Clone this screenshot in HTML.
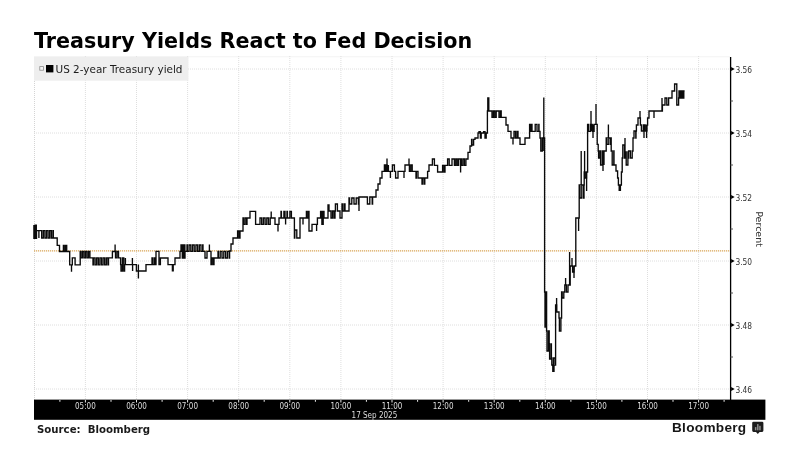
<!DOCTYPE html>
<html lang="en">
<head>
<meta charset="utf-8">
<title>Treasury Yields React to Fed Decision</title>
<style>
  html, body { margin: 0; padding: 0; background: #fff; }
  body { width: 799px; height: 450px; overflow: hidden; position: relative;
         font-family: "DejaVu Sans", "Liberation Sans", sans-serif; }
  h1 { position: absolute; left: 34px; top: 27.6px; margin: 0; font-size: 20.7px; line-height: 26px;
       font-weight: bold; color: #000; letter-spacing: 0; white-space: nowrap;
       font-family: "DejaVu Sans", "Liberation Sans", sans-serif; }
  svg { position: absolute; left: 0; top: 0; }
  h1, .src, .brand, svg { will-change: transform; }
  .grid line { stroke: #dedede; stroke-width: 1; stroke-dasharray: 1 1; }
  .ylab text { font-size: 8.3px; fill: #333; font-family: "DejaVu Sans Condensed", "DejaVu Sans", "Liberation Sans", sans-serif; }
  .ylab path { fill: #000; }
  .xlab text { font-size: 8px; fill: #dedede; text-anchor: middle; font-family: "DejaVu Sans Condensed", "DejaVu Sans", "Liberation Sans", sans-serif; }
  .xlab line { stroke: #e8e8e8; stroke-width: 1; }
  .src { position: absolute; left: 37px; top: 422.9px; font-size: 10.2px; line-height: 14px; font-weight: bold; color: #1a1a1a; white-space: pre; }
  .brand { position: absolute; left: 672.2px; top: 417.5px; font-size: 13.6px; line-height: 20px; font-weight: bold; color: #161616;
           font-family: "Liberation Sans", sans-serif; letter-spacing: 0.3px; white-space: nowrap; }
</style>
</head>
<body>
<h1>Treasury Yields React to Fed Decision</h1>
<svg width="799" height="450" viewBox="0 0 799 450">
  <!-- plot frame -->
  <rect x="34" y="56.5" width="697" height="344" fill="#fff"/>
  <line x1="34" y1="56.8" x2="730" y2="56.8" stroke="#f3f3f3" stroke-width="1"/>
  <line x1="34.5" y1="57" x2="34.5" y2="400" stroke="#d4d4d4" stroke-width="1" stroke-dasharray="1 1"/>
  <g class="grid">
    <line x1="85.4" y1="56" x2="85.4" y2="400"/><line x1="136.5" y1="56" x2="136.5" y2="400"/><line x1="187.6" y1="56" x2="187.6" y2="400"/><line x1="238.7" y1="56" x2="238.7" y2="400"/><line x1="289.8" y1="56" x2="289.8" y2="400"/><line x1="340.9" y1="56" x2="340.9" y2="400"/><line x1="392.0" y1="56" x2="392.0" y2="400"/><line x1="443.1" y1="56" x2="443.1" y2="400"/><line x1="494.2" y1="56" x2="494.2" y2="400"/><line x1="545.3" y1="56" x2="545.3" y2="400"/><line x1="596.4" y1="56" x2="596.4" y2="400"/><line x1="647.5" y1="56" x2="647.5" y2="400"/><line x1="698.6" y1="56" x2="698.6" y2="400"/><line x1="34" y1="389.0" x2="730.5" y2="389.0"/><line x1="34" y1="325.0" x2="730.5" y2="325.0"/><line x1="34" y1="261.0" x2="730.5" y2="261.0"/><line x1="34" y1="197.0" x2="730.5" y2="197.0"/><line x1="34" y1="133.0" x2="730.5" y2="133.0"/><line x1="34" y1="69.0" x2="730.5" y2="69.0"/>
  </g>
  <!-- legend -->
  <rect x="34" y="56.7" width="154.4" height="24" fill="#eeeeee"/>
  <rect x="39.8" y="66.6" width="3.6" height="3.6" fill="#f4f4f4" stroke="#8a8a8a" stroke-width="0.8"/>
  <rect x="46" y="65" width="7.4" height="7.4" fill="#000"/>
  <text x="55.5" y="72.6" font-size="10.6" fill="#1c1c1c" font-family="DejaVu Sans, Liberation Sans, sans-serif" textLength="127" lengthAdjust="spacingAndGlyphs">US 2-year Treasury yield</text>
  <!-- reference line -->
  <line x1="34" y1="250.9" x2="730" y2="250.9" stroke="#d9a557" stroke-width="1.2" stroke-dasharray="1.2 0.8"/>
  <!-- series -->
  <path d="M33.9 225.1 V238.3 H35.1 V225.1 H36.3 V238.3 H36.5 V230.6 H38.9 V238 V230.6 H41.7 V238 H43.3 V230.6 H44.9 V238 H46.5 V230.6 H48.1 V238 H49.7 V230.6 H51.3 V238 H52.9 V230.6 H53.3 V238 H57.2 V245.3 H59.5 V251.5 H63.4 V245.3 H63.9 V251.5 H65.3 V245.3 H66.7 V251.5 H67.8 H69.7 V264.8 H71.5 V271.8 V264.8 H72.3 V257.8 H75.1 V264.8 H80.2 V251.5 H81 V257.8 H82.5 V251.5 H84 V257.8 H85.5 V251.5 H87 V257.8 H88.5 V251.5 H89.9 V257.8 H93 V264.8 H93.5 V257.8 H95.1 V264.8 H96.7 V257.8 H98.3 V264.8 H99.9 V257.8 H101.5 V264.8 H103.1 V257.8 H104.7 V264.8 H106.3 V257.8 H107.9 V264.8 H108.5 V257.8 H112.4 V251.5 H115.1 V244.5 V251.5 H115.5 V257.8 H117 V251.5 H118.5 V257.8 H119 H120.6 V264.6 H121 V271 H122.4 V258 H123.8 V271 H124.6 V264.6 H125.4 V258 V264.6 H132.4 V258 V264.6 H132.6 V271 V264.6 H136 H136.4 V271 H138.4 H140.8 H146 V264.6 H152 V258 H152.4 V264.6 H154 V258 H154.8 V264.6 H156 V251.4 H159 V264.6 H160.4 V258 H168 V264.6 H172.4 V271.4 V264.6 H173.2 V271.4 V264.6 H175 V258 H180 V251.4 H181 V245 H182.3 V258 H183.6 V245 H184.9 V258 H185 V251.4 H187 V245 H187.4 V251.4 H189.1 V245 H190.8 V251.4 H192.5 V245 H194.2 V251.4 H195.9 V245 H197.6 V251.4 H199.3 V245 H201 V251.4 H202.7 V245 H203 V251.4 H205 V258 H207 V251.4 H209.4 V244.4 V251.4 H211 V264.6 H211.4 V258 H212.8 V264.6 H214 V258 H218 V251.4 H218.4 V258 H220.2 V251.4 H222 V258 H223.8 V251.4 H225.6 V258 H227.4 V251.4 H229.2 V258 H229.6 V251.4 V258 V251 H231 V244 H233 V238 H237.6 V231 H239 V238 H240 V231 H243 V218 H243.4 V224.4 H244.9 V218 H246.4 V224.4 H247 V218 H250 V211.4 H255.6 V224.4 H260 V218 H261.7 V224.4 H263.4 V218 H265.1 V224.4 H266.8 V218 H268.5 V224.4 H270.2 V218 H271 H271.2 V211.4 V218 H275 V224.4 H278 V231.4 V224.4 H279 V218 H281 V211.4 H281.4 V218 H283.9 V211.4 H284.4 H285 V218 H285.6 V224.4 V218 H287 V211.4 H287.4 V218 H289.9 V211.4 H290.6 H291.4 V218 H294.4 V238 H294.8 V230 H296.8 V238 H297 H300 V218 H303 V224.4 V218 H306.4 V211.4 H306.6 V218 H308 V211.4 H309 V231 H312 V224.4 H316.6 V231 V224.4 H317.4 V218 H320.6 V211.4 H321.9 V224.4 H323.2 V211.4 H324 V218 V211 V218 H328 V205 H329 V211 H331 V218 H332.5 V211 H334 V218 H335 V211 H335.4 V204 H337.4 V211 H340 V218 H342 V204 H342.4 V211 H344 V204 H345 V211 H349 V198 H349.6 V204 H351.8 V198 H354 V204 H356.2 V198 H358.4 V204 H359 V197 V211 V197 H367 H367.4 V204 H369.8 V197 H372.2 V204 H372.6 V197 H376 V190 H378 V184 H380 V178 H382 V171.4 H384.4 V165 H385.2 V171.4 H386.4 V165 H386.8 H387 V158.4 V165 H387.2 V171.4 H388.4 V165 V171.4 H390.4 V178 V171.4 H392.4 V165 H394.4 V171.4 H395.6 V178 H398 V171.4 H404 V178 V171.4 H405 V165 H409 V158.4 V165 H409.4 V171.4 H410.8 V165 H412.2 V171.4 H412.6 H416 V178 H416.4 V171.4 H418 V178 H422 V184 H422.4 V178 H424 V184 H424.8 V178 H427.6 V171.4 H429 V165 H432.4 V159 H434.4 V165.4 H437.6 V172 H442.6 V165.4 H444 V172 H445 V165.4 H447.6 V159 H449.2 V165.4 H452 V159 H454.4 V165.4 H455.8 V159 H457.2 V165.4 H458.6 V159 H459.4 H460.6 V172.4 V159 H461.4 V165.4 H462.9 V159 H464.4 V165.4 H465.9 V159 H466 H468 V152.4 H470 V146 H471.6 V139.4 H472 V145 H473.6 V139.4 H475 V138 H478 V133 H479 V131.6 H480.4 V138 H481.2 V133 H483.6 V131.6 H485 V138 H486.2 V133 H487.4 V111 H487.8 V98 H488.8 V111 H489.2 H492 V117.4 H493.4 V111 H494.8 V117.4 H496.2 V111 H496.4 H499 V117.4 H500.4 V111 H501.2 V117.4 H506 V125 H508 V131.4 H511 V138 H513 V144.4 V138 H514 V131.4 H515.5 V138 H517 V131.4 H518 V138 H520 V144.4 H525 V138 H529.6 V124.4 H529.8 V131.4 H531 V124.4 H532 V131.4 H535.2 V124.4 H537 V131.4 H538.8 V124.4 H539 V131.4 H540 V138 H540.8 V151 H542.3 V138 H543.8 V151 V138 V97.4 V138 H544.6 V292 H545 V327 H546.2 V292 H546.6 V331 H547 V351 H548.5 V331 H549.2 V344 H549.6 V359 H551.1 V344 H551.4 V358 H551.8 V365 H553.4 V358 H555 V365 H555.6 V305 H556.6 V298 V305 H556.8 V312 H559 V318 H559.4 V331 H560.9 V318 H561 H561.6 V292 H562.2 V298 H563.8 V292 H564.2 H564.8 V285 H565.6 V278 V285 H566.4 V292 H568 V285 H569 H569.6 V252 V285 H570.2 V266 H572 V258 V266 H572.6 V272 H574.2 V266 H575 H575.8 V218 H578.6 V231 V218 H579.2 V185 H580 V198 H581.8 V185 H583.6 V198 H584 V185 H584.2 V172 H584.6 V151 V172 H585.2 V178 H586.7 V172 H587 H587.6 V124.4 H588.4 V131.4 H590.3 V124.4 H592.2 V131.4 H594.1 V124.4 H595.4 H596 V104 V124.4 H597.2 V144.4 H598.2 V151 H598.6 V158 H600 V151 H600.6 V165 H602.3 V151 H604 V165 V151 H606.2 V138 H607 V144.4 H608.8 V138 H610.6 V144.4 H611 V138 H611.2 V151 H612.2 V165 H613.8 V151 H614 V165 H616 V171 H617.6 V178 H618.4 V185 H619.2 V191 V185 H620.4 V191 V185 H621.4 V172 H622.2 V158 H622.8 V145 H624.5 V158 H625.6 V152 H626.2 V165 H627.9 V152 H628 V158 H628.6 V151 H630.4 V158 H632.2 V151 H633 V138 H634 V131 H635.8 V138 H636 V131 H636.4 V125 H638 V118 H640 V111 V118 H640.4 V125 H641.4 V131 H643.3 V125 H645.2 V131 H647 V125 H647.6 V118 H649 V111 H654 V118 V111 H661.6 H662 V98 V111 H662.4 V105 H665 V98 H666.8 V105 H668.6 V98 H670 H672 V91 H674.6 V84 H676.8 V105 H678.6 V98 H679 V91 H680.2 V98 H681.4 V91 H682.6 V98 H683.8 V91 H684 H684.6 M138.4 264.6V278.4 M552.8 365V372 M554 365V372 M574 266V278 M581.2 185V151 M586.6 172V191 M591 131V111 M593 124.4V138 M603 151V171 M608.4 138V124.4 M625 152V138 M644 125V138 M646.6 125V138" fill="none" stroke="#0a0a0a" stroke-width="1.35" stroke-linejoin="miter" stroke-linecap="butt"/>
  <!-- right axis -->
  <line x1="730.6" y1="57" x2="730.6" y2="400" stroke="#000" stroke-width="1.3"/>
  <g stroke="#555" stroke-width="1"><line x1="730.5" y1="357.0" x2="733" y2="357.0"/><line x1="730.5" y1="293.0" x2="733" y2="293.0"/><line x1="730.5" y1="229.0" x2="733" y2="229.0"/><line x1="730.5" y1="165.0" x2="733" y2="165.0"/><line x1="730.5" y1="101.0" x2="733" y2="101.0"/></g>
  <g class="ylab">
    <path d="M734.7 389.0 l-3.6 -2 v4z"/><text x="735.4" y="392.6">3.46</text><path d="M734.7 325.0 l-3.6 -2 v4z"/><text x="735.4" y="328.6">3.48</text><path d="M734.7 261.0 l-3.6 -2 v4z"/><text x="735.4" y="264.6">3.50</text><path d="M734.7 197.0 l-3.6 -2 v4z"/><text x="735.4" y="200.6">3.52</text><path d="M734.7 133.0 l-3.6 -2 v4z"/><text x="735.4" y="136.6">3.54</text><path d="M734.7 69.0 l-3.6 -2 v4z"/><text x="735.4" y="72.6">3.56</text>
  </g>
  <text transform="translate(756.3 211.2) rotate(90)" font-size="9.5" fill="#333" font-family="DejaVu Sans, Liberation Sans, sans-serif">Percent</text>
  <!-- bottom time band -->
  <rect x="34" y="399.6" width="731.4" height="20.2" fill="#000"/>
  <g class="xlab">
    <line x1="85.4" y1="400" x2="85.4" y2="402.5"/><text x="85.4" y="408.9">05:00</text><line x1="136.5" y1="400" x2="136.5" y2="402.5"/><text x="136.5" y="408.9">06:00</text><line x1="187.6" y1="400" x2="187.6" y2="402.5"/><text x="187.6" y="408.9">07:00</text><line x1="238.7" y1="400" x2="238.7" y2="402.5"/><text x="238.7" y="408.9">08:00</text><line x1="289.8" y1="400" x2="289.8" y2="402.5"/><text x="289.8" y="408.9">09:00</text><line x1="340.9" y1="400" x2="340.9" y2="402.5"/><text x="340.9" y="408.9">10:00</text><line x1="392.0" y1="400" x2="392.0" y2="402.5"/><text x="392.0" y="408.9">11:00</text><line x1="443.1" y1="400" x2="443.1" y2="402.5"/><text x="443.1" y="408.9">12:00</text><line x1="494.2" y1="400" x2="494.2" y2="402.5"/><text x="494.2" y="408.9">13:00</text><line x1="545.3" y1="400" x2="545.3" y2="402.5"/><text x="545.3" y="408.9">14:00</text><line x1="596.4" y1="400" x2="596.4" y2="402.5"/><text x="596.4" y="408.9">15:00</text><line x1="647.5" y1="400" x2="647.5" y2="402.5"/><text x="647.5" y="408.9">16:00</text><line x1="698.6" y1="400" x2="698.6" y2="402.5"/><text x="698.6" y="408.9">17:00</text><line x1="59.9" y1="400" x2="59.9" y2="401.8"/><line x1="111.0" y1="400" x2="111.0" y2="401.8"/><line x1="162.1" y1="400" x2="162.1" y2="401.8"/><line x1="213.2" y1="400" x2="213.2" y2="401.8"/><line x1="264.2" y1="400" x2="264.2" y2="401.8"/><line x1="315.4" y1="400" x2="315.4" y2="401.8"/><line x1="366.4" y1="400" x2="366.4" y2="401.8"/><line x1="417.6" y1="400" x2="417.6" y2="401.8"/><line x1="468.7" y1="400" x2="468.7" y2="401.8"/><line x1="519.8" y1="400" x2="519.8" y2="401.8"/><line x1="570.9" y1="400" x2="570.9" y2="401.8"/><line x1="621.9" y1="400" x2="621.9" y2="401.8"/><line x1="673.0" y1="400" x2="673.0" y2="401.8"/><line x1="724.1" y1="400" x2="724.1" y2="401.8"/>
    <text x="374.4" y="418.4">17 Sep 2025</text>
  </g>
  <!-- bloomberg icon -->
  <g transform="translate(752.2 421.7)">
    <path d="M1.3 0h8.6a1.3 1.3 0 0 1 1.3 1.3v7.6a1.3 1.3 0 0 1 -1.3 1.3h-2.5l-1.8 2l-1.8 -2h-2.5a1.3 1.3 0 0 1 -1.3 -1.3v-7.6a1.3 1.3 0 0 1 1.3 -1.3z" fill="#1c1c1c"/>
    <rect x="2.7" y="5.4" width="1.5" height="3.2" fill="#8e8e8e"/>
    <rect x="4.85" y="2.4" width="1.5" height="6.2" fill="#8e8e8e"/>
    <rect x="7" y="4.1" width="1.5" height="4.5" fill="#8e8e8e"/>
  </g>
</svg>
<div class="src">Source:  Bloomberg</div>
<div class="brand">Bloomberg</div>
</body>
</html>
